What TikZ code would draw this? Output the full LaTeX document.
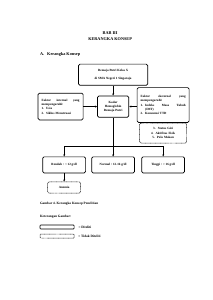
\documentclass[tikz,border=0pt]{standalone}
\usepackage{fontspec}
\setmainfont{Liberation Serif}
\usetikzlibrary{positioning}

\begin{document}
\begin{tikzpicture}[
    >=stealth,
    font=\bfseries\fontsize{9}{12}\selectfont,
    % Kotak-kotak
    kotak/.style={draw=black, line width=2pt, rectangle, rounded corners=4pt, align=center, inner sep=3pt},
    kotakputus/.style={kotak, line width=1.5pt, dash pattern=on 2pt off 1.5pt},
    daftar/.style={kotak, align=left, inner xsep=0.35cm},
    panah/.style={->, line width=1.6pt, draw=black},
    garis/.style={line width=1.6pt, draw=black},
    judul/.style={font=\bfseries\fontsize{12}{14}\selectfont},
    keterangan/.style={font=\bfseries\fontsize{9.5}{11}\selectfont, anchor=west, inner sep=0pt}
  ]
  \useasboundingbox (0,0) rectangle (21,-29.7);

  % ==========================================
  % 1. JUDUL
  % ==========================================
  \node[judul] (bab) at (10.9,-3.27) {BAB III};
  \node[judul] (judulbab) at (10.9,-3.86) {KERANGKA KONSEP};
  \node[judul, anchor=west, inner sep=0pt] (subbab) at (3.96,-5.35) {A.\hspace{0.7em}Kerangka Konsep};

  % ==========================================
  % 2. KOTAK (NODES)
  % ==========================================

  % Sampel dan variabel terikat
  \node[kotak, minimum width=6.85cm, minimum height=2.1cm] (remaja) at (11.2,-7.4) {Remaja Putri Kelas X\\[8pt] di SMA Negeri 1 Singaraja};
  \node[kotak, minimum width=3.1cm, minimum height=2.1cm] (kadar) at (11.2,-10.55) {Kadar\\ Hemoglobin\\ Remaja Putri};

  % Faktor (kiri dan kanan)
  \node[daftar, text width=3.76cm, minimum height=2.65cm] (internal) at (6.0,-10.55) {Faktor\hfill internal\hfill yang\\ mempengaruhi:\\ \makebox[0.45cm][l]{1.}Usia\\ \makebox[0.45cm][l]{2.}Siklus Menstruasi};
  \node[daftar, text width=4.45cm, minimum height=3.45cm] (eksternal) at (16.15,-10.4) {Faktor\hfill eksternal\hfill yang\\ mempengaruhi:\\ \makebox[0.45cm][l]{1.}Indeks\hfill Masa\hfill Tubuh\\ \hspace*{0.45cm}(IMT)\\ \makebox[0.45cm][l]{2.}Konsumsi TTD};
  \node[daftar, kotakputus, text width=4.45cm, minimum height=1.98cm] (tidakditeliti) at (16.15,-13.17) {\makebox[0.45cm][l]{3.}Status Gizi\\ \makebox[0.45cm][l]{4.}Aktifitas Fisik\\ \makebox[0.45cm][l]{5.}Pola Makan};

  % Kategori kadar Hb
  \coordinate (cabang) at (11.2,-14.45);
  \node[kotak, minimum width=4.25cm, minimum height=1.6cm] (rendah) at (6.35,-16.33) {Rendah : < 12 g/dl};
  \node[kotak, minimum width=4.25cm, minimum height=1.6cm] (normal) at (11.2,-16.33) {Normal : 12-16 g/dl};
  \node[kotak, minimum width=4.25cm, minimum height=1.6cm] (tinggi) at (16.15,-16.33) {Tinggi : > 16 g/dl};
  \node[kotakputus, minimum width=3.27cm, minimum height=1.1cm] (anemia) at (6.35,-18.56) {Anemia};

  % ==========================================
  % 3. PANAH
  % ==========================================
  \draw[panah] (remaja.south) -- (kadar.north);
  \draw[panah] (internal.east) -- (kadar.west);
  \draw[panah] (eksternal.west |- kadar.east) -- (kadar.east);

  \draw[garis] (kadar.south) -- (cabang);
  \draw[panah] (cabang) -| (rendah.north);
  \draw[panah] (cabang) -- (normal.north);
  \draw[panah] (cabang) -| (tinggi.north);
  \draw[panah] (rendah.south) -- (anemia.north);

  % ==========================================
  % 4. KETERANGAN
  % ==========================================
  \node[keterangan] (gambar) at (3.96,-20.2) {Gambar 4. Kerangka Konsep Penelitian};
  \node[keterangan] (ket) at (3.96,-21.5) {Keterangan Gambar:};

  \node[kotak, line width=1.8pt, minimum width=3.37cm, minimum height=0.4cm, inner sep=0pt, rounded corners=2pt] (legenda1) at (5.65,-22.47) {};
  \node[keterangan, right=0.4cm of legenda1] (teks1) {= Diteliti};
  \node[kotakputus, minimum width=3.37cm, minimum height=0.4cm, inner sep=0pt, rounded corners=2pt] (legenda2) at (5.65,-23.37) {};
  \node[keterangan, right=0.4cm of legenda2] (teks2) {= Tidak Diteliti};

\end{tikzpicture}
\end{document}
